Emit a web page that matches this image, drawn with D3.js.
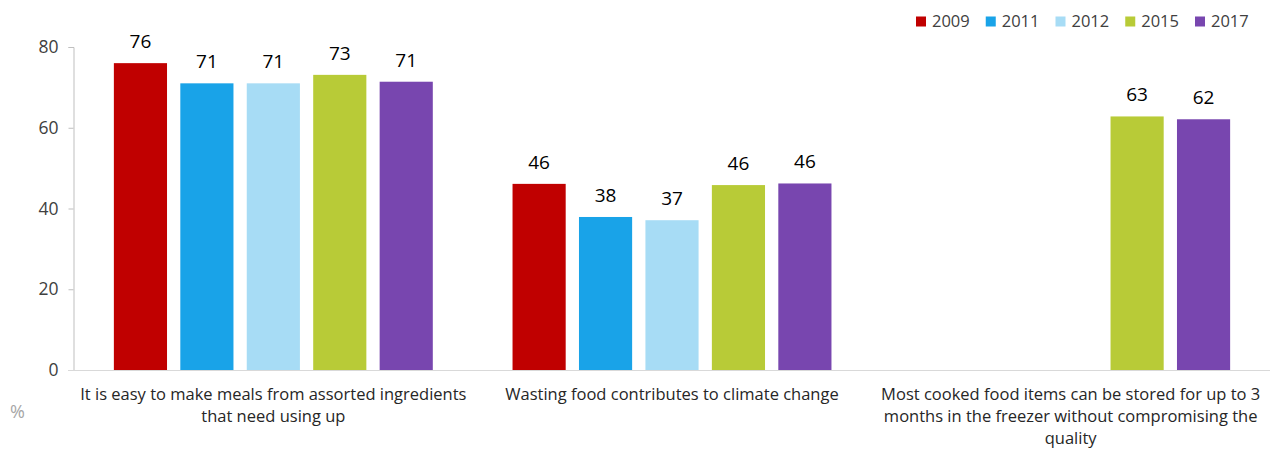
<!DOCTYPE html>
<html><head><meta charset="utf-8">
<script src="https://cdn.jsdelivr.net/npm/d3@7"></script>
<style>body{margin:0;background:#fff}svg{display:block;font-family:"Open Sans",sans-serif}</style>
</head><body><svg id="c" width="1276" height="452"></svg>
<script>
const categories = [
  "It is easy to make meals from assorted ingredients that need using up",
  "Wasting food contributes to climate change",
  "Most cooked food items can be stored for up to 3 months in the freezer without compromising the quality"
];
const seriesNames = ["2009","2011","2012","2015","2017"];
const seriesColors = ["#C00000","#19A3E8","#A7DCF5","#B8CB37","#7846AF"];
const v2009 = [76.0, 46.1, null];
const v2011 = [71.0, 37.9, null];
const v2012 = [71.0, 37.1, null];
const v2015 = [73.1, 45.8, 62.8];
const v2017 = [71.4, 46.2, 62.1];
const yTicks = [0,20,40,60,80];
const allValues = [v2009, v2011, v2012, v2015, v2017];

const svg = d3.select("#c");
const x0 = d3.scaleBand().domain(categories).range([74, 1270]).paddingInner(0).paddingOuter(0);
const x1 = d3.scaleBand().domain(seriesNames).range([0, x0.bandwidth()]).paddingInner(0.2).paddingOuter(0.6);
const y = d3.scaleLinear().domain([0,80]).range([370, 47]);

// y axis
const yAxis = svg.append("g").attr("transform","translate(73.5,0)")
  .call(d3.axisLeft(y).tickValues(yTicks).tickSize(5).tickPadding(10));
yAxis.select(".domain").attr("stroke","#BFBFBF").attr("d","M-5,47.5H0.5V370.5");
yAxis.selectAll(".tick line").attr("stroke","#BFBFBF");
yAxis.selectAll(".tick text").attr("fill","#404040").style("font-size","17.5px").style("font-family","Open Sans");

// baseline
svg.append("line").attr("x1",68).attr("x2",1270).attr("y1",370.5).attr("y2",370.5).attr("stroke","#D9D9D9");

// bars
const data = [];
categories.forEach((c,i)=>{
  seriesNames.forEach((s,j)=>{
    const v = allValues[j][i];
    if (v != null) data.push({c, s, v, color: seriesColors[j]});
  });
});
svg.append("g").selectAll("rect").data(data).join("rect")
  .attr("x", d => x0(d.c) + x1(d.s))
  .attr("width", x1.bandwidth())
  .attr("y", d => y(d.v))
  .attr("height", d => y(0) - y(d.v))
  .attr("fill", d => d.color);

svg.append("g").selectAll("text").data(data).join("text")
  .attr("x", d => x0(d.c) + x1(d.s) + x1.bandwidth()/2)
  .attr("y", d => y(d.v) - 15)
  .attr("text-anchor","middle")
  .attr("fill","#000")
  .style("font-size","19px")
  .text(d => d3.format(".0f")(d.v));

// category labels with wrapping
const maxW = 400;
const fs = "16.5px";
categories.forEach(c=>{
  const t = svg.append("text").attr("text-anchor","middle").attr("fill","#262626")
    .style("font-size",fs);
  const words = c.split(" ");
  let lines = [], line = [];
  const tmp = svg.append("text").style("font-size",fs);
  words.forEach(w=>{
    line.push(w);
    tmp.text(line.join(" "));
    if (tmp.node().getComputedTextLength() > maxW && line.length > 1) {
      line.pop(); lines.push(line.join(" ")); line = [w];
    }
  });
  lines.push(line.join(" "));
  tmp.remove();
  lines.forEach((l,k)=>{
    t.append("tspan").attr("x", x0(c) + x0.bandwidth()/2).attr("y", 400 + k*22).text(l);
  });
});

// % label
svg.append("text").attr("x",10).attr("y",418).attr("fill","#A6A6A6").style("font-size","18px").text("%");

// legend
const lg = svg.append("g");
seriesNames.forEach((s,j)=>{
  const lx = 916 + j*69.75;
  lg.append("rect").attr("x",lx).attr("y",16.5).attr("width",10).attr("height",10).attr("fill",seriesColors[j]);
  lg.append("text").attr("x",lx+16).attr("y",27).attr("fill","#404040").style("font-size","16.5px").text(s);
});
</script></body></html>
